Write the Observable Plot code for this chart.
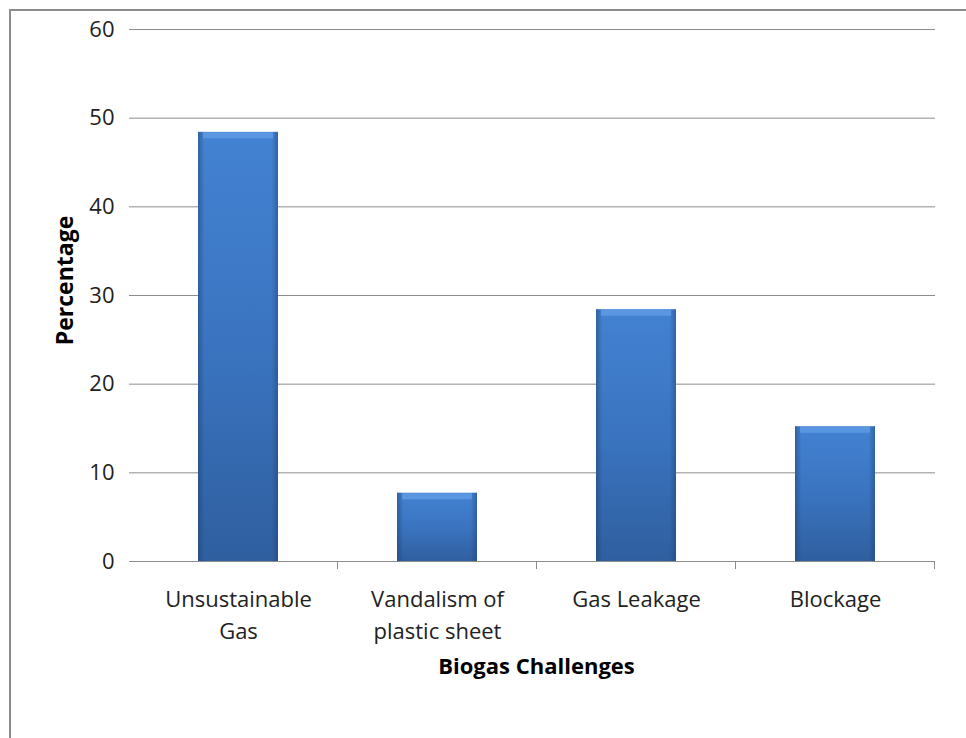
<!DOCTYPE html>
<html><head><meta charset="utf-8">
<script src="https://cdn.jsdelivr.net/npm/d3@7"></script>
<script src="https://cdn.jsdelivr.net/npm/@observablehq/plot@0.6"></script>
<style>
body{margin:0;background:#fff;}
#wrap{position:relative;width:966px;height:738px;overflow:hidden;}
#frame{position:absolute;left:9px;top:9px;width:1000px;height:800px;border:2px solid #8c8c8c;box-sizing:border-box;}
#chart{position:absolute;left:0;top:0;}
</style></head>
<body><div id="wrap"><div id="frame"></div><div id="chart"></div></div>
<script>
const categories = ["Unsustainable\nGas", "Vandalism of\nplastic sheet", "Gas Leakage", "Blockage"];
const values = [48.4, 7.7, 28.4, 15.2];
const yTicks = [0, 10, 20, 30, 40, 50, 60];
const yTitle = "Percentage";
const xTitle = "Biogas Challenges";
const data = categories.map((c, i) => ({category: c, value: values[i]}));

const plot = Plot.plot({
  width: 966, height: 738,
  marginLeft: 137, marginRight: 31, marginTop: 29, marginBottom: 177,
  style: {fontFamily: "'Open Sans', sans-serif", fontSize: "22px", color: "#222", background: "transparent", overflow: "visible"},
  x: {domain: categories, paddingInner: 0.6, paddingOuter: 0.3, label: null},
  y: {domain: [0, 60], label: null},
  marks: [
    Plot.gridY(yTicks, {stroke: "#8c8c8c", strokeOpacity: 1, strokeWidth: 1}),
    Plot.barY(data, {x: "category", y: "value", fill: "url(#barV)"}),
    Plot.barY(data, {x: "category", y: "value", fill: "url(#barH)"}),
    Plot.tickY(data, {x: "category", y: "value", stroke: "#5a97e0", strokeWidth: 6, dy: 3, insetLeft: 5, insetRight: 5}),
    Plot.ruleY([0], {stroke: "#8c8c8c"}),
    Plot.ruleX([0], {stroke: "#8c8c8c", frameAnchor: "left", insetBottom: -8}),
    Plot.axisY(yTicks, {tickSize: 8, tickPadding: 15, stroke: "#8c8c8c", fontSize: 22, fill: "#222", label: null}),
    Plot.axisX({tickSize: 0, tickPadding: 23, fontSize: 22, fill: "#222", lineHeight: 1.45, label: null}),
    Plot.text([yTitle], {frameAnchor: "left", textAnchor: "middle", lineAnchor: "middle", dx: -72, dy: -15, rotate: -90, fontWeight: "bold", fontSize: 23, fill: "#000"}),
    Plot.text([xTitle], {frameAnchor: "bottom", textAnchor: "middle", lineAnchor: "middle", dy: 105, fontWeight: "bold", fontSize: 22, fill: "#000"})
  ]
});

const svg = d3.select(plot);
// category boundary ticks below the x axis, placed from the band scale
const xs = plot.scale("x");
const ys = plot.scale("y");
const step = xs.step, bw = xs.bandwidth;
const y0 = ys.apply(0);
const g = svg.append("g").attr("stroke", "#8c8c8c");
categories.forEach(c => {
  const xr = xs.apply(c) + bw + (step - bw) / 2;
  g.append("line").attr("x1", xr).attr("x2", xr).attr("y1", y0).attr("y2", y0 + 8);
});

const defs = svg.insert("defs", ":first-child");
const gv = defs.append("linearGradient").attr("id", "barV").attr("x1", 0).attr("y1", 0).attr("x2", 0).attr("y2", 1);
gv.append("stop").attr("offset", "0").attr("stop-color", "#4382d2");
gv.append("stop").attr("offset", "0.5").attr("stop-color", "#3a74c0");
gv.append("stop").attr("offset", "1").attr("stop-color", "#2f5f9f");
const gh = defs.append("linearGradient").attr("id", "barH").attr("x1", 0).attr("y1", 0).attr("x2", 1).attr("y2", 0);
gh.append("stop").attr("offset", "0").attr("stop-color", "#1d3f6e").attr("stop-opacity", 0.5);
gh.append("stop").attr("offset", "0.08").attr("stop-color", "#1d3f6e").attr("stop-opacity", 0.0);
gh.append("stop").attr("offset", "0.92").attr("stop-color", "#1d3f6e").attr("stop-opacity", 0.0);
gh.append("stop").attr("offset", "1").attr("stop-color", "#1d3f6e").attr("stop-opacity", 0.45);
document.getElementById("chart").appendChild(plot);
</script>
</body></html>
